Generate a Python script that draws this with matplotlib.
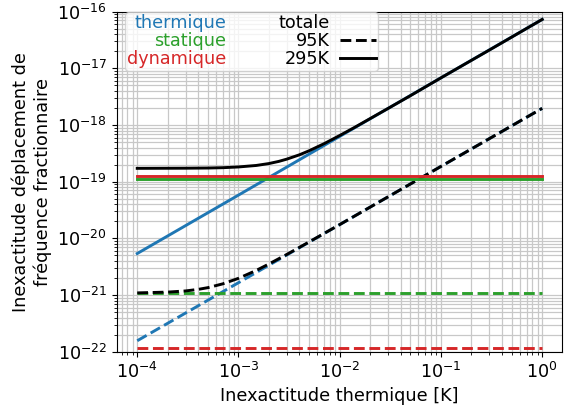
import matplotlib
matplotlib.use("Agg")
import matplotlib.pyplot as plt
from matplotlib.lines import Line2D
from matplotlib.ticker import LogLocator

# x values (temperature inaccuracy, K)
x_line = [1e-4, 1e-3, 1e-2, 1e-1, 1.0]
# thermal contribution
therm_295 = [5.4e-21, 5.8e-20, 6.3e-19, 6.8e-18, 7.3e-17]
therm_95 = [1.56e-22, 1.65e-21, 1.75e-20, 1.86e-19, 1.97e-18]
# static and dynamic (flat)
x_flat = [1e-4, 1.0]
stat_295 = [1.13e-19, 1.13e-19]
stat_95 = [1.07e-21, 1.07e-21]
dyn_295 = [1.28e-19, 1.28e-19]
dyn_95 = [1.17e-22, 1.17e-22]
# total
x_tot_295 = [1e-4, 3e-4, 5e-4, 7e-4, 1e-3, 1.5e-3, 2e-3, 2.5e-3, 3e-3, 4e-3, 5e-3,
             7e-3, 1e-2, 1.4e-2, 2e-2, 3e-2, 5e-2, 1e-1, 3e-1, 1.0]
tot_295 = [1.72e-19, 1.73e-19, 1.743e-19, 1.766e-19, 1.82e-19, 1.934e-19, 2.09e-19,
           2.28e-19, 2.50e-19, 2.98e-19, 3.52e-19, 4.68e-19, 6.53e-19, 9.06e-19,
           1.30e-18, 1.96e-18, 3.3e-18, 6.8e-18, 2.1e-17, 7.3e-17]
x_tot_95 = [1e-4, 2e-4, 3e-4, 4e-4, 5e-4, 7e-4, 1e-3, 1.5e-3, 2e-3, 3e-3, 4e-3,
            5e-3, 1e-2, 2e-2, 1e-1, 1.0]
tot_95 = [1.09e-21, 1.126e-21, 1.18e-21, 1.258e-21, 1.35e-21, 1.575e-21, 1.97e-21,
          2.72e-21, 3.53e-21, 5.2e-21, 6.93e-21, 8.67e-21, 1.75e-20, 3.56e-20,
          1.86e-19, 1.97e-18]

x_ticks = [1e-4, 1e-3, 1e-2, 1e-1, 1e0]
y_ticks = [1e-22, 1e-21, 1e-20, 1e-19, 1e-18, 1e-17, 1e-16]

legend_labels = ["thermique", "statique", "dynamique", "totale", "95K", "295K"]
C_T, C_S, C_D = "#1f77b4", "#2ca02c", "#d62728"

fs = 12.7
plt.rcParams["font.size"] = fs
fig = plt.figure(figsize=(5.66, 4.16), dpi=100)
ax = fig.add_axes([0.2067, 0.1546, 0.787, 0.8173])
lw = 2.1
ax.plot(x_line, therm_95, color=C_T, ls="--", lw=lw)
ax.plot(x_flat, stat_95, color=C_S, ls="--", lw=lw)
ax.plot(x_flat, dyn_95, color=C_D, ls="--", lw=lw)
ax.plot(x_tot_95, tot_95, color="black", ls="--", lw=lw)
ax.plot(x_line, therm_295, color=C_T, ls="-", lw=lw)
ax.plot(x_flat, stat_295, color=C_S, ls="-", lw=lw)
ax.plot(x_flat, dyn_295, color=C_D, ls="-", lw=lw)
ax.plot(x_tot_295, tot_295, color="black", ls="-", lw=lw)

ax.set_xscale("log")
ax.set_yscale("log")
ax.set_ylim(1e-22, 1e-16)
ax.set_xticks(x_ticks)
ax.set_yticks(y_ticks)
ax.xaxis.set_minor_locator(LogLocator(base=10, subs=range(2, 10), numticks=20))
ax.yaxis.set_minor_locator(LogLocator(base=10, subs=range(2, 10), numticks=20))
ax.set_xlim(10 ** -4.2, 10 ** 0.2)
ax.grid(True, which="both", color="#c8c8c8", lw=0.9)
ax.set_axisbelow(True)
ax.set_xlabel("Inexactitude thermique [K]")
ax.set_ylabel("Inexactitude déplacement de\nfréquence fractionnaire")

handles = [Line2D([], [], color="none") for _ in range(4)] + [
    Line2D([], [], color="black", ls="--", lw=lw),
    Line2D([], [], color="black", ls="-", lw=lw)]
leg = ax.legend(handles, legend_labels, ncol=2, loc="upper left",
                bbox_to_anchor=(0.018, 0.998), borderaxespad=0.0,
                markerfirst=False, fontsize=fs,
                labelspacing=0.0, handletextpad=0.6, columnspacing=0.35,
                handlelength=2.0, borderpad=0.12)
for t, c in zip(leg.get_texts(), [C_T, C_S, C_D, "black", "black", "black"]):
    t.set_color(c)

fig.savefig("out.png", dpi=100)
